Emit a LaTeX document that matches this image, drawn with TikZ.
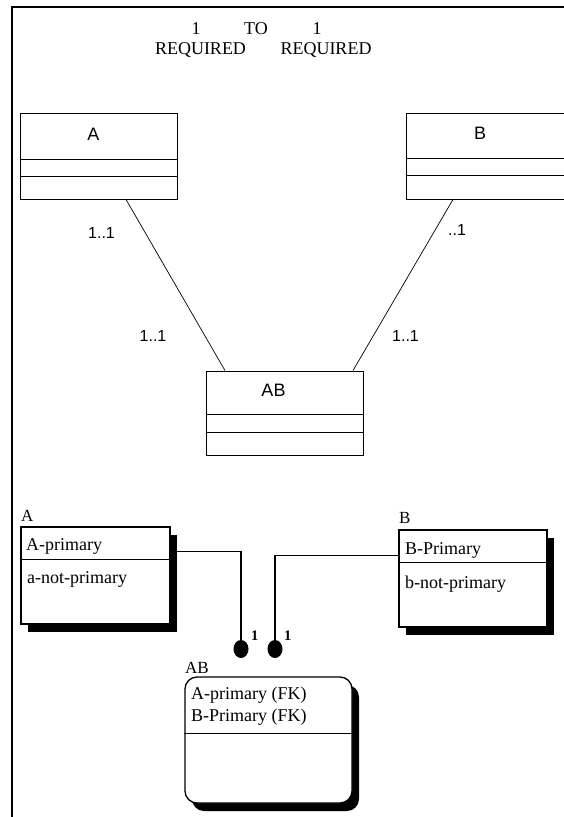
\documentclass[tikz,border=0pt]{standalone}
\usepackage{fontspec}
\setmainfont{Liberation Serif}
\newfontfamily\sansf{Liberation Sans}
\usetikzlibrary{calc,shapes.geometric}
\tikzset{
  classbox/.style={draw=black, line width=0.9pt, rectangle, inner sep=0pt, fill=white},
  classtxt/.style={font=\sansf\fontsize{18}{20}\selectfont, inner sep=0pt},
  multtxt/.style={font=\sansf\fontsize{16}{18}\selectfont, inner sep=0pt},
  titletxt/.style={font=\fontsize{18}{20}\selectfont, inner sep=0pt},
  erbox/.style={draw=black, line width=1.3pt, rectangle, inner sep=0pt, fill=white},
  ertxt/.style={font=\fontsize{18}{20}\selectfont, inner sep=0pt, anchor=base west},
  erlabel/.style={font=\fontsize{17}{19}\selectfont, inner sep=0pt, anchor=base west},
  cardtxt/.style={font=\bfseries\fontsize{14.5}{16}\selectfont, inner sep=0pt, anchor=base west},
  thinline/.style={line width=0.7pt},
  erline/.style={line width=1.3pt},
  dotend/.style={ellipse, fill=black, draw=none, minimum width=15pt, minimum height=18pt, inner sep=0pt},
  shadowfill/.style={fill=black, draw=none}
}
\begin{document}
\begin{tikzpicture}[x=1pt,y=-1pt]
\useasboundingbox (0,0) rectangle (564,817);
\fill[white] (0,0) rectangle (564,817);
% frame
\coordinate (frameTL) at (12,7);
\coordinate (frameTR) at (564,7);
\coordinate (frameBL) at (12,817);
\draw[line width=1.5pt] (frameTR) -- (frameTL) -- (frameBL);

% title
\node[titletxt] (t1) at (196,29) {1};
\node[titletxt] (tTO) at (256,29) {TO};
\node[titletxt] (t2) at (317,29) {1};
\node[titletxt] (treq1) at (200.5,50) {REQUIRED};
\node[titletxt] (treq2) at (326,50) {REQUIRED};

% class boxes
\node[classbox, minimum width=157pt, minimum height=86pt] (A) at (98.5,156) {};
\node[classbox, minimum width=162pt, minimum height=86pt] (B) at (487,156) {};
\node[classbox, minimum width=157pt, minimum height=84pt] (ABc) at (284.5,413) {};
\foreach \n/\d in {A/47, A/64, B/46, B/63, ABc/44, ABc/62}{
  \draw[line width=0.9pt] ($(\n.north west)+(0,\d)$) -- ($(\n.north east)+(0,\d)$);
}
\node[classtxt] (Atxt) at (93.5,134) {A};
\node[classtxt] (Btxt) at (480,133) {B};
\node[classtxt] (ABtxt) at (273.5,390) {AB};

% associations
\draw[thinline] ([xshift=27.5pt]A.south) -- ([xshift=-59.5pt]ABc.north);
\draw[thinline] ([xshift=-34pt]B.south) -- ([xshift=68.5pt]ABc.north);
\node[multtxt] (m1) at (101.5,233) {1..1};
\node[multtxt] (m2) at (457,230) {..1};
\node[multtxt] (m3) at (153,336) {1..1};
\node[multtxt] (m4) at (405.5,336) {1..1};

% ER diagram
\node[dotend] (dotA) at (241,649) {};
\node[dotend] (dotB) at (275,649) {};

\coordinate (erAc) at (95.5,575.5);
\coordinate (erBc) at (473,578.5);
\coordinate (erABc) at (268.5,740);

% connectors (drawn before shadows so that the shadows cover their start)
\node[minimum width=149pt, minimum height=97pt, inner sep=0pt] (erAghost) at (erAc) {};
\node[minimum width=148pt, minimum height=97pt, inner sep=0pt] (erBghost) at (erBc) {};
\draw[erline] ([yshift=-25pt]erAghost.north east) -| (dotA.north);
\draw[erline] ([yshift=-26pt]erBghost.north west) -| (dotB.north);

% shadows
\fill[shadowfill] ([shift={(7,8)}]erAghost.north west) rectangle ([shift={(7,8)}]erAghost.south east);
\fill[shadowfill] ([shift={(7,8)}]erBghost.north west) rectangle ([shift={(7,8)}]erBghost.south east);
\fill[shadowfill, rounded corners=12pt] ($(erABc)+(-83.5+7,-63+8)$) rectangle ($(erABc)+(83.5+7,63+8)$);

% ER boxes
\node[erbox, minimum width=149pt, minimum height=97pt] (erA) at (erAc) {};
\node[erbox, minimum width=148pt, minimum height=97pt] (erB) at (erBc) {};
\node[erbox, rounded corners=12pt, minimum width=167pt, minimum height=126pt] (erAB) at (erABc) {};
\draw[line width=1.3pt] ($(erA.north west)+(0,33)$) -- ($(erA.north east)+(0,33)$);
\draw[line width=1.3pt] ($(erB.north west)+(0,33)$) -- ($(erB.north east)+(0,33)$);
\draw[line width=1.3pt] ($(erAB.north west)+(0,57)$) -- ($(erAB.north east)+(0,57)$);

\node[erlabel] (lA) at (21,521) {A};
\node[erlabel] (lB) at (399,523) {B};
\node[erlabel] (lAB) at (185,673) {AB};

\node[ertxt] (aprim) at (26,550) {A-primary};
\node[ertxt] (anot) at (27,583) {a-not-primary};
\node[ertxt] (bprim) at (405,554) {B-Primary};
\node[ertxt] (bnot) at (405,588) {b-not-primary};
\node[ertxt] (abfk1) at (191,699) {A-primary (FK)};
\node[ertxt] (abfk2) at (191,721) {B-Primary (FK)};

\node[cardtxt] (c1) at (251,640) {1};
\node[cardtxt] (c2) at (284,640) {1};
\end{tikzpicture}
\end{document}
